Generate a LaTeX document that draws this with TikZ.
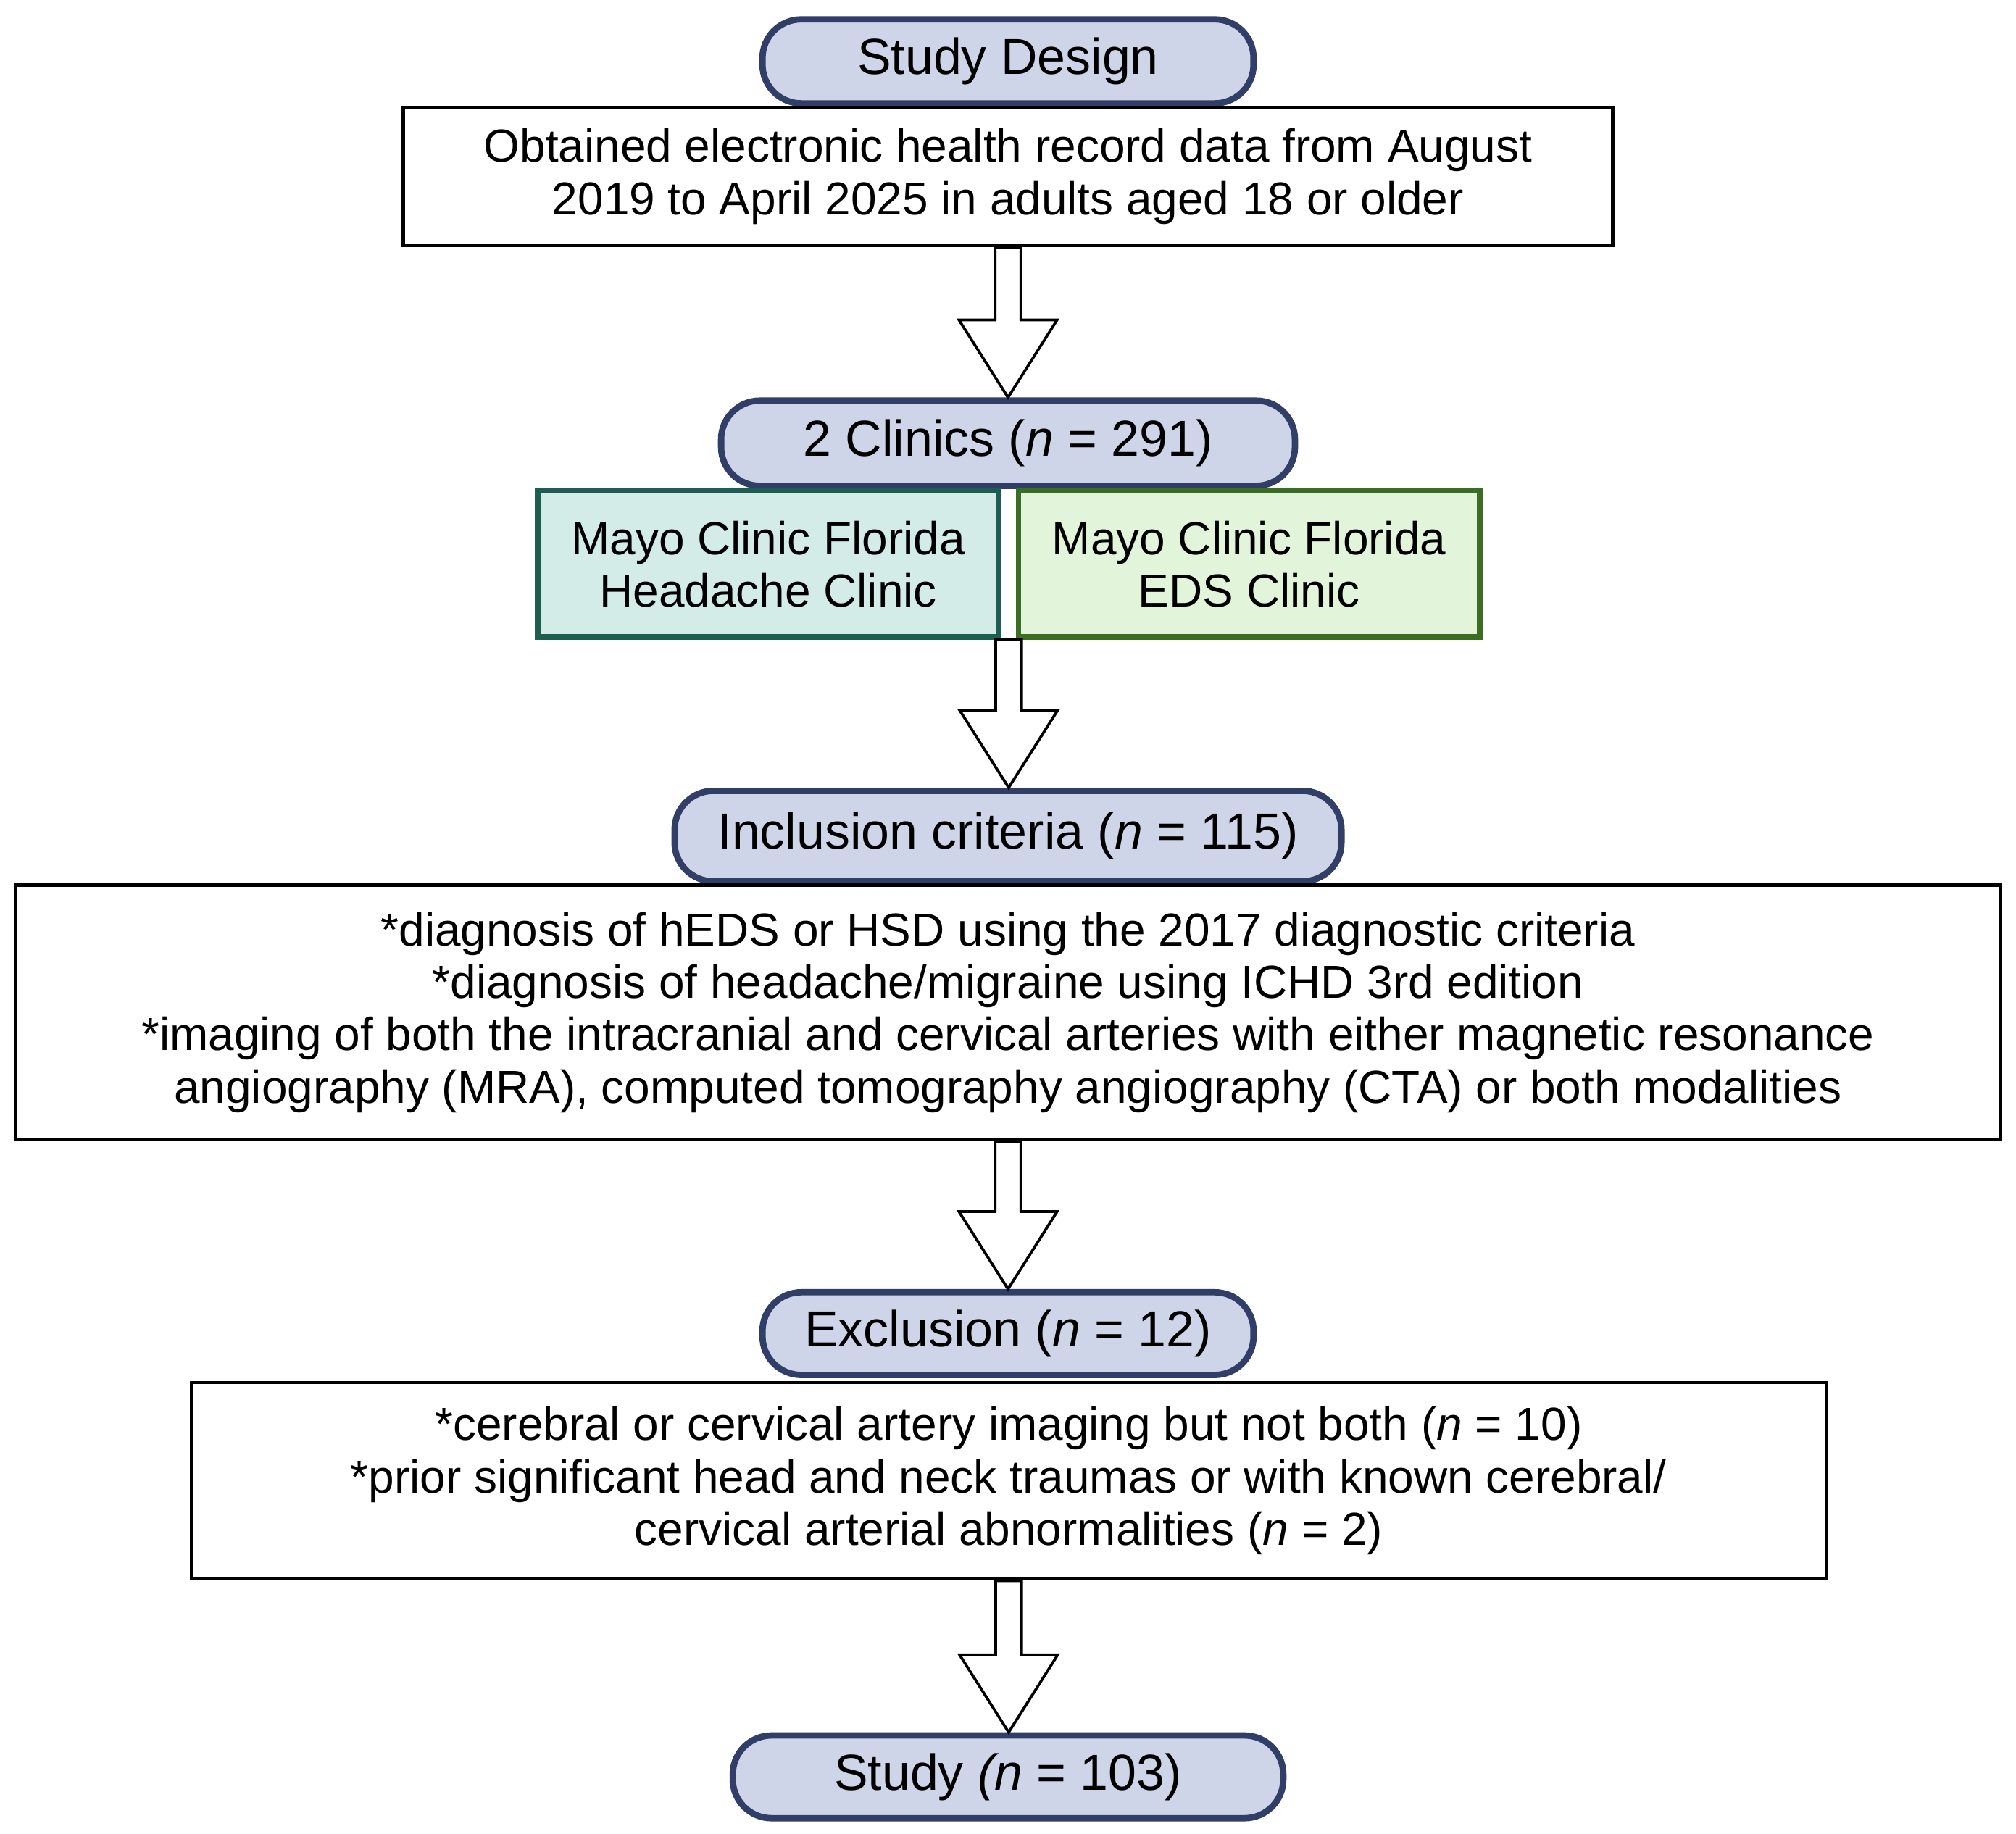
\documentclass[tikz,border=0pt]{standalone}
\usepackage{fontspec}
\setmainfont{Liberation Sans}
\usetikzlibrary{calc}

\definecolor{pillfill}{HTML}{CFD5E8}
\definecolor{pilledge}{HTML}{313F68}
\definecolor{headfill}{HTML}{D3ECE8}
\definecolor{headedge}{HTML}{1E5E52}
\definecolor{edsfill}{HTML}{E2F4DA}
\definecolor{edsedge}{HTML}{3B6E22}

\begin{document}
\begin{tikzpicture}[
    pill/.style={draw=pilledge, fill=pillfill, line width=1.4pt, rounded corners=0.3cm,
      inner sep=0pt, font=\fontsize{11.15}{12.5}\selectfont},
    textbox/.style={draw=black, line width=0.7pt, inner sep=0pt, align=center,
      font=\fontsize{10.2}{11.55}\selectfont},
    clinicbox/.style={textbox, line width=1.2pt, minimum width=3.57cm, minimum height=1.13cm},
    blockarrow/.style={draw=black, fill=white, line width=0.6pt, line join=miter}
  ]
      \useasboundingbox (0, 0) rectangle (15.6, -14.192);
      \node[pill, minimum width=3.8cm, minimum height=0.65cm] (design) at (7.8, -0.475) {Study Design};
      \node[textbox, minimum width=9.36cm, minimum height=1.07cm] (record) at (7.8, -1.365)
        {Obtained electronic health record data from August\\2019 to April 2025 in adults aged 18 or older};
      \node[pill, minimum width=4.44cm, minimum height=0.66cm] (clinics) at (7.8, -3.43) {2 Clinics (\textit{n} = 291)};
      \node[clinicbox, draw=headedge, fill=headfill] (headache) at (5.945, -4.365)
        {Mayo Clinic Florida\\Headache Clinic};
      \node[clinicbox, draw=edsedge, fill=edsfill] (eds) at (9.665, -4.365)
        {Mayo Clinic Florida\\EDS Clinic};
      \coordinate (pair) at ($(headache.south east)!0.5!(eds.south west)$);
      \node[pill, minimum width=5.16cm, minimum height=0.70cm] (inclusion) at (7.8, -6.47)
        {Inclusion criteria (\textit{n} = 115)};
      \node[textbox, minimum width=15.36cm, minimum height=1.97cm] (criteria) at (7.8, -7.835)
        {*diagnosis of hEDS or HSD using the 2017 diagnostic criteria\\
         *diagnosis of headache/migraine using ICHD 3rd edition\\
         *imaging of both the intracranial and cervical arteries with either magnetic resonance\\
         angiography (MRA), computed tomography angiography (CTA) or both modalities};
      \node[pill, minimum width=3.8cm, minimum height=0.64cm] (exclusion) at (7.8, -10.32)
        {Exclusion (\textit{n} = 12)};
      \node[textbox, minimum width=12.65cm, minimum height=1.52cm] (excluded) at (7.805, -11.46)
        {*cerebral or cervical artery imaging but not both (\textit{n} = 10)\\
         *prior significant head and neck traumas or with known cerebral/\\
         cervical arterial abnormalities (\textit{n} = 2)};
      \node[pill, minimum width=4.26cm, minimum height=0.64cm] (study) at (7.8, -13.75)
        {Study \textit{(n} = 103)};
      \foreach \a/\b in {record.south/clinics.north, pair/inclusion.north,
          criteria.south/exclusion.north, excluded.south/study.north}
        \draw[blockarrow] let \p1 = (\a), \p2 = (\b) in
          (\x1-0.1cm, \y1) -- (\x1-0.1cm, \y2+0.6cm) -- (\x1-0.38cm, \y2+0.6cm) -- (\x1, \y2)
          -- (\x1+0.38cm, \y2+0.6cm) -- (\x1+0.1cm, \y2+0.6cm) -- (\x1+0.1cm, \y1) -- cycle;
\end{tikzpicture}
\end{document}
